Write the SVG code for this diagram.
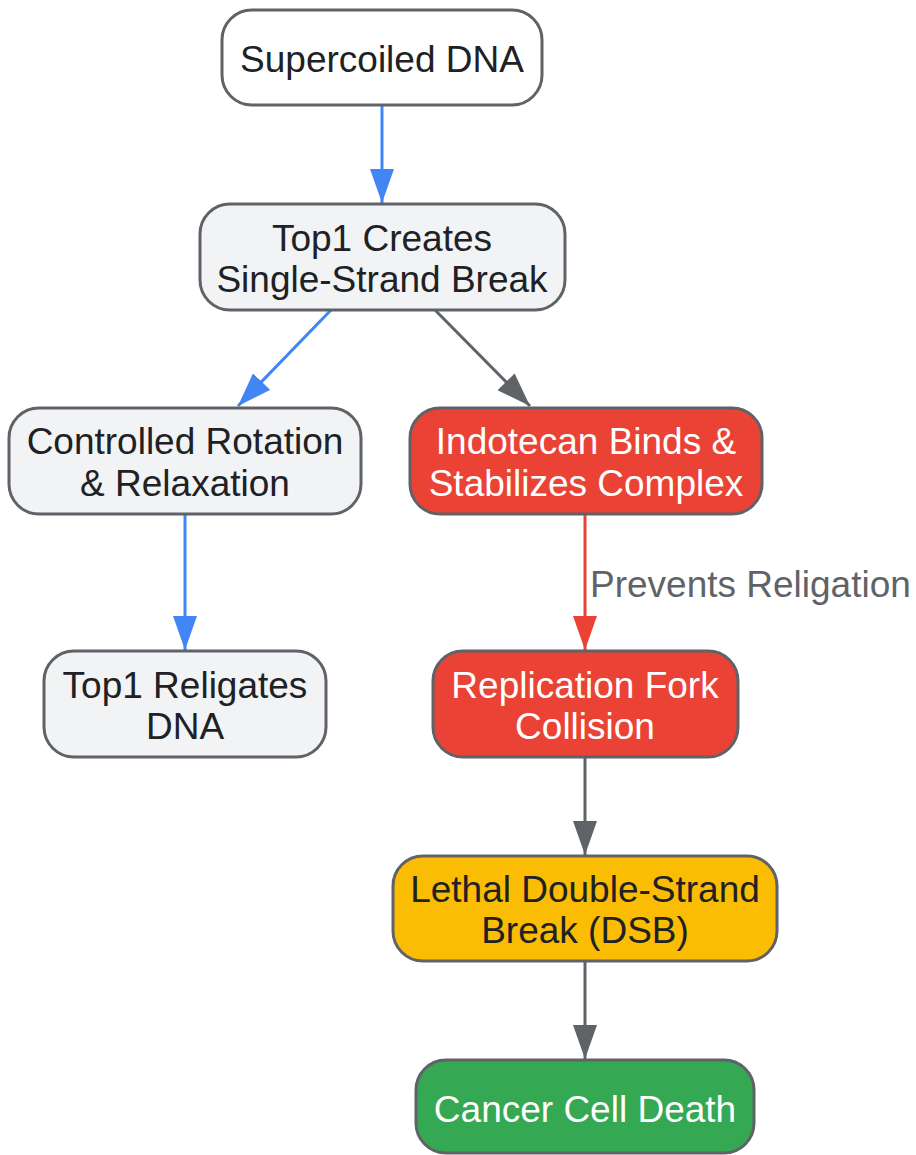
<svg xmlns="http://www.w3.org/2000/svg" width="916" height="1155" viewBox="0 0 916 1155">
<style>
.n rect{stroke:#5f6368;stroke-width:3}
.t{font-family:"Liberation Sans",Arial,sans-serif;font-size:37px;text-anchor:middle;fill:#202124}
.w{fill:#ffffff}
.e{fill:none;stroke-width:3}
.lbl{font-family:"Liberation Sans",Arial,sans-serif;font-size:37px;fill:#5f6368}
</style>
<defs>
<marker id="ab" markerUnits="userSpaceOnUse" markerWidth="34" markerHeight="24" refX="34" refY="12" orient="auto"><path d="M0,0 L34,12 L0,24 z" fill="#4285f4"/></marker>
<marker id="ag" markerUnits="userSpaceOnUse" markerWidth="34" markerHeight="24" refX="34" refY="12" orient="auto"><path d="M0,0 L34,12 L0,24 z" fill="#5f6368"/></marker>
<marker id="ar" markerUnits="userSpaceOnUse" markerWidth="34" markerHeight="24" refX="34" refY="12" orient="auto"><path d="M0,0 L34,12 L0,24 z" fill="#ea4335"/></marker>
</defs>
<rect width="916" height="1155" fill="#ffffff"/>
<g id="connectors">
<line class="e" x1="382" y1="105" x2="382" y2="203" stroke="#4285f4" marker-end="url(#ab)"/>
<line class="e" x1="331" y1="310" x2="238" y2="406" stroke="#4285f4" marker-end="url(#ab)"/>
<line class="e" x1="435" y1="310" x2="530" y2="406" stroke="#5f6368" marker-end="url(#ag)"/>
<line class="e" x1="185" y1="514" x2="185" y2="650" stroke="#4285f4" marker-end="url(#ab)"/>
<line class="e" x1="585" y1="514" x2="585" y2="650" stroke="#ea4335" marker-end="url(#ar)"/>
<text class="lbl" x="590" y="597">Prevents Religation</text>
<line class="e" x1="585" y1="757" x2="585" y2="855" stroke="#5f6368" marker-end="url(#ag)"/>
<line class="e" x1="585" y1="961" x2="585" y2="1059" stroke="#5f6368" marker-end="url(#ag)"/>
</g>
<g id="n1" class="n"><rect x="222" y="10" width="320" height="95" rx="30" fill="#ffffff"/><text class="t" x="382" y="72">Supercoiled DNA</text></g>
<g id="n2" class="n"><rect x="200" y="204" width="365" height="106" rx="30" fill="#f1f3f4"/><text class="t" x="382" y="251">Top1 Creates</text><text class="t" x="382" y="292">Single-Strand Break</text></g>
<g id="n3" class="n"><rect x="9" y="408" width="352" height="106" rx="30" fill="#f1f3f4"/><text class="t" x="185" y="454">Controlled Rotation</text><text class="t" x="185" y="496">&amp; Relaxation</text></g>
<g id="n4" class="n"><rect x="410" y="408" width="352" height="106" rx="30" fill="#ea4335"/><text class="t w" x="586" y="454">Indotecan Binds &amp;</text><text class="t w" x="586" y="496">Stabilizes Complex</text></g>
<g id="n5" class="n"><rect x="44" y="651" width="282" height="106" rx="30" fill="#f1f3f4"/><text class="t" x="185" y="698">Top1 Religates</text><text class="t" x="185" y="739">DNA</text></g>
<g id="n6" class="n"><rect x="433" y="651" width="305" height="106" rx="30" fill="#ea4335"/><text class="t w" x="585" y="698">Replication Fork</text><text class="t w" x="585" y="739">Collision</text></g>
<g id="n7" class="n"><rect x="393" y="856" width="384" height="105" rx="30" fill="#fbbc04"/><text class="t" x="585" y="902">Lethal Double-Strand</text><text class="t" x="585" y="943">Break (DSB)</text></g>
<g id="n8" class="n"><rect x="416" y="1060" width="338" height="93" rx="30" fill="#34a853"/><text class="t w" x="585" y="1122">Cancer Cell Death</text></g>
</svg>
